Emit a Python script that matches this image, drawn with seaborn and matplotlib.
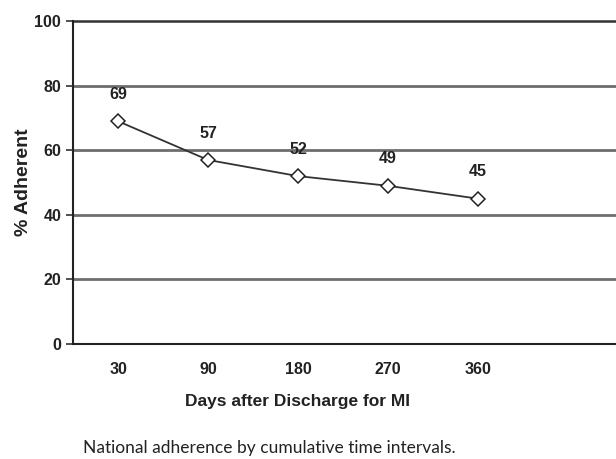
import matplotlib
matplotlib.use('Agg')
import matplotlib.pyplot as plt
import seaborn as sns
import numpy as np

days = ['30', '90', '180', '270', '360']
adherent = [69, 57, 52, 49, 45]

sns.set_style('white')
plt.rcParams['font.family'] = ['Liberation Sans', 'DejaVu Sans']

fig = plt.figure(figsize=(6.16, 4.59), dpi=100)
ax = fig.add_axes([0.1185, 0.2505, 0.8815, 0.7035])

ax.set_ylim(0, 100)
ax.set_xlim(-0.5, 5.53)
for yv in [20, 40, 60, 80]:
    ax.axhline(yv, color='#6e6e6e', lw=2.0, zorder=0)
ax.axhline(100, color='#333333', lw=1.8, zorder=0, clip_on=False)

sns.lineplot(x=np.arange(len(days)), y=adherent, ax=ax, color='#333333', lw=1.3,
             marker='D', markersize=7.5, markerfacecolor='white',
             markeredgecolor='#222222', markeredgewidth=1.1)

for i, v in enumerate(adherent):
    ax.annotate(str(v), (i, v), xytext=(0, 14), textcoords='offset points',
                ha='center', va='bottom', fontsize=11.5, fontweight='bold', color='#222222')

ax.set_xticks(range(len(days)))
ax.set_xticklabels(days, fontsize=11.5, fontweight='bold')
ax.set_xticks(np.arange(-0.5, 4.6, 1.0), minor=True)
ax.tick_params(axis='x', which='major', length=0, pad=13, colors='#222222')
ax.tick_params(axis='x', which='minor', length=4, width=1.2, color='#333333', direction='out')
ax.set_yticks([0, 20, 40, 60, 80, 100])
ax.set_yticklabels([0, 20, 40, 60, 80, 100], fontsize=11.5, fontweight='bold')
ax.tick_params(axis='y', length=5, width=1.2, color='#333333', direction='out', left=True,
               labelcolor='#222222')

for s in ['top', 'right']:
    ax.spines[s].set_visible(False)
for s in ['left', 'bottom']:
    ax.spines[s].set_color('#222222')
    ax.spines[s].set_linewidth(1.5)

ax.set_xlabel('Days after Discharge for MI', fontsize=12.5, fontweight='bold', color='#222222')
ax.xaxis.set_label_coords(0.414, -0.155)
ax.set_ylabel('% Adherent', fontsize=14, fontweight='bold', color='#222222')
ax.yaxis.set_label_coords(-0.075, 0.5)

fig.text(0.438, 0.012, 'National adherence by cumulative time intervals.', ha='center',
         fontsize=12.5, family=['Lato', 'DejaVu Sans'], color='#222222')

fig.savefig('out.png', dpi=100)
